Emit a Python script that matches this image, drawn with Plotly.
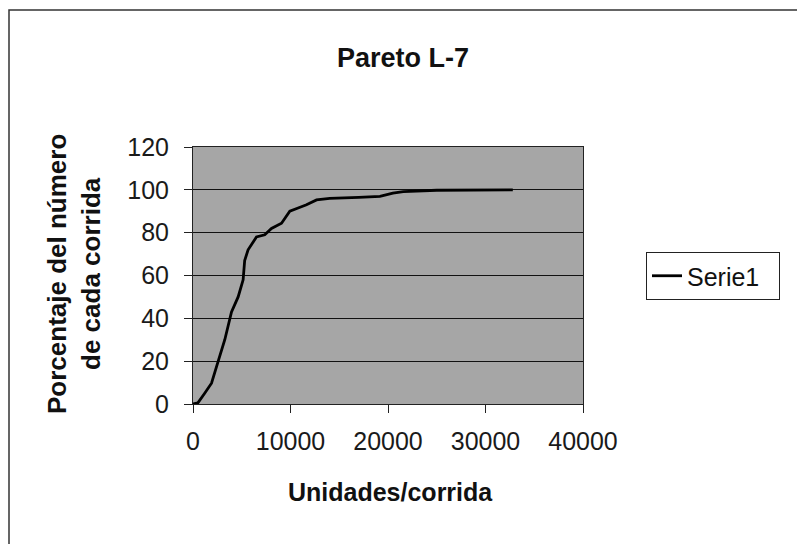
import plotly.graph_objects as go

# Data
units = [0, 500, 1200, 1900, 2570, 3260, 3950, 4630, 5140, 5300, 5650, 6510, 7360,
         8050, 9080, 9930, 10780, 11640, 12670, 14030, 17000, 19170, 20500, 21570,
         25000, 32800]
percent = [0, 0.5, 5, 9.7, 19.8, 30, 43, 50, 58, 67, 72, 78, 79,
           82, 84.4, 90, 91.5, 93, 95.3, 96, 96.5, 96.9, 98.5, 99.2,
           99.8, 100]
series_name = "Serie1"
title_text = "Pareto L-7"
x_title = "Unidades/corrida"
y_title = "Porcentaje del número<br>de cada corrida"
x_ticks = [0, 10000, 20000, 30000, 40000]
y_ticks = [0, 20, 40, 60, 80, 100, 120]

FONT = "Liberation Sans, Arial, sans-serif"

fig = go.Figure()
fig.add_trace(go.Scatter(x=units, y=percent, mode="lines", name=series_name + "\u00a0\u00a0",
                         line=dict(color="black", width=2.8), showlegend=True))

# page body has an 8px margin; positions below are in figure coordinates
OFF = 8
W, H = 805 - OFF, 544 - OFF
L, R, T, B = 193 - OFF, 583 - OFF, 147 - OFF, 404 - OFF
pw, ph = R - L, B - T

def px_x(p):
    return (p - OFF - L) / pw

def px_y(p):
    return (B - (p - OFF)) / ph

fig.update_layout(
    width=W, height=H,
    margin=dict(l=L, r=W - R, t=T, b=H - B),
    paper_bgcolor="white",
    plot_bgcolor="#a6a6a6",
    font=dict(family=FONT, color="#1a1a1a", size=25),
    title=dict(text=f"<b>{title_text}</b>", x=(403 - OFF) / W, xanchor="center",
               y=1 - (58 - OFF) / H, yanchor="middle", yref="container",
               font=dict(size=27, family=FONT, color="#111111")),
    xaxis=dict(range=[0, 40000], tickvals=x_ticks, ticktext=[str(v) for v in x_ticks],
               showgrid=False, zeroline=False, showline=True, linecolor="#222222",
               linewidth=1, ticks="outside", ticklen=8, tickcolor="#222222",
               tickfont=dict(size=25), ticklabelstandoff=7, mirror=True),
    yaxis=dict(range=[0, 120], tickvals=y_ticks, showgrid=True, gridcolor="#111111",
               gridwidth=1, zeroline=False, showline=True, linecolor="#222222",
               linewidth=1, ticks="outside", ticklen=8, tickcolor="#222222",
               tickfont=dict(size=25), ticklabelstandoff=10, mirror=True),
    legend=dict(x=px_x(646), y=px_y(252), xanchor="left", yanchor="top",
                bordercolor="#222222", borderwidth=1, bgcolor="white",
                font=dict(size=25, color="#111111"), itemwidth=30,
                tracegroupgap=0),
    annotations=[
        dict(text=f"<b>{y_title}</b>", xref="paper", yref="paper",
             x=px_x(74), y=px_y(274), textangle=-90, showarrow=False,
             xanchor="center", yanchor="middle",
             font=dict(size=26, family=FONT, color="#111111")),
        dict(text=f"<b>{x_title}</b>", xref="paper", yref="paper",
             x=px_x(390), y=px_y(492), showarrow=False,
             xanchor="center", yanchor="middle",
             font=dict(size=25, family=FONT, color="#111111")),
    ],
    shapes=[
        dict(type="rect", xref="paper", yref="paper",
             x0=px_x(9), x1=px_x(900), y0=px_y(600), y1=px_y(10),
             line=dict(color="#333333", width=1.5), layer="below"),
    ],
)

fig.write_html("out.html")
